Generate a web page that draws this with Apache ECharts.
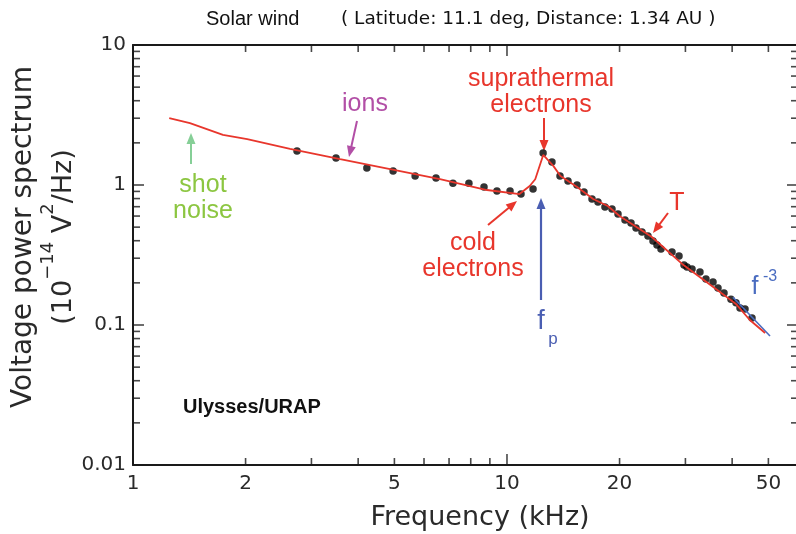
<!DOCTYPE html>
<html><head><meta charset="utf-8">
<script src="https://cdn.jsdelivr.net/npm/echarts@6/dist/echarts.min.js"></script>
<style>html,body{margin:0;padding:0;background:#fff}#c{width:796px;height:534px}</style>
</head><body><div id="c"></div>
<script>
// Model spectrum (red curve)
const modelFreq  = [1.25, 1.42, 1.74, 2.02, 2.63, 3.58, 4.87, 6.62, 8.84, 10.8, 11.5, 11.9, 12.5, 13.3, 13.9, 15.4, 17.0, 18.6, 20.0, 24.4, 29.4, 36.2, 41.0, 44.6, 49.0];
const modelPower = [3.01, 2.77, 2.28, 2.13, 1.81, 1.53, 1.30, 1.10, 0.921, 0.862, 0.984, 1.10, 1.64, 1.37, 1.16, 0.968, 0.794, 0.708, 0.600, 0.425, 0.273, 0.181, 0.141, 0.1086, 0.0877];
// Observed spectrum (black dots)
const obsFreq  = [2.745, 3.49, 4.22, 4.96, 5.68, 6.46, 7.17, 7.91, 8.68, 9.40, 10.19, 10.90, 11.74, 12.49, 13.19, 13.86, 14.56, 15.39, 16.07, 16.88, 17.51, 18.28, 19.09, 19.81, 20.68, 21.46, 22.13, 22.96, 23.82, 24.57, 25.18, 25.81, 27.62, 28.84, 29.74, 30.29, 31.24, 32.81, 34.04, 35.55, 36.66, 38.04, 39.71, 40.96, 41.98, 43.29, 45.20];
const obsPower = [1.75, 1.56, 1.32, 1.26, 1.16, 1.12, 1.03, 1.03, 0.968, 0.906, 0.906, 0.862, 0.936, 1.69, 1.46, 1.16, 1.07, 1.0, 0.891, 0.794, 0.756, 0.696, 0.674, 0.621, 0.562, 0.535, 0.493, 0.461, 0.432, 0.398, 0.373, 0.349, 0.332, 0.311, 0.268, 0.260, 0.251, 0.239, 0.213, 0.203, 0.184, 0.169, 0.153, 0.144, 0.132, 0.130, 0.112];
// f^-3 reference slope
const slopeFreq  = [40.2, 50.5];
const slopePower = [0.158, 0.0834];
// Axis ticks / labels
const xLabels     = [1, 2, 5, 10, 20, 50];
const xMajorTicks = [1, 10];
const xMinorTicks = [2, 3, 4, 5, 6, 7, 8, 9, 20, 30, 40, 50];
const yLabels     = [0.01, 0.1, 1, 10];
const yMajorTicks = [0.01, 0.1, 1, 10];
const yMinorTicks = [0.02,0.03,0.04,0.05,0.06,0.07,0.08,0.09,0.2,0.3,0.4,0.5,0.6,0.7,0.8,0.9,2,3,4,5,6,7,8,9];

const X_MIN = 1, X_MAX = 60, Y_MIN = 0.01, Y_MAX = 10;
const AX = '#1a1a1a';
const zip = (a, b) => a.map((v, i) => [v, b[i]]);

function axis(kind, pos, labels) {
  return {
    type: 'log', logBase: 10, position: pos,
    min: kind === 'x' ? X_MIN : Y_MIN, max: kind === 'x' ? X_MAX : Y_MAX,
    axisLine: { show: true, lineStyle: { color: AX, width: 2 } },
    axisTick: { show: false },
    axisLabel: labels ? { show: true, customValues: labels, fontSize: 20, color: '#2a2a2a', fontFamily: 'DejaVu Sans', margin: kind === 'x' ? 9 : 7 } : { show: false },
    splitLine: { show: false }
  };
}

// Inward tick marks as thin rect symbols placed by the axes' scales
function tickSeries(points, size, offset) {
  return {
    type: 'scatter', data: points, symbol: 'rect', symbolSize: size, symbolOffset: offset,
    itemStyle: { color: AX }, clip: false, silent: true, z: 6
  };
}

function arrow(x1, y1, x2, y2, color, w) {
  const a = Math.atan2(y2 - y1, x2 - x1), L = 11, H = 4.5;
  const bx = x2 - L * Math.cos(a), by = y2 - L * Math.sin(a);
  const px = -Math.sin(a), py = Math.cos(a);
  return [
    { type: 'line', shape: { x1, y1, x2: bx + 2*Math.cos(a), y2: by + 2*Math.sin(a) }, style: { stroke: color, lineWidth: w || 2 } },
    { type: 'polygon', shape: { points: [[x2, y2], [bx + H * px, by + H * py], [bx - H * px, by - H * py]] }, style: { fill: color } }
  ];
}
function txt(x, y, s, color, size, extra) {
  return { type: 'text', x, y, style: Object.assign({ text: s, fill: color, font: size + 'px "Liberation Sans", Arial, sans-serif', align: 'center', verticalAlign: 'middle', lineHeight: 26 }, extra || {}) };
}

const RED = '#e8362c', BLUE = '#4a5eb2';
const graphics = [].concat(
  [
    { type: 'text', x: 206, y: 19, style: { text: 'Solar wind', fill: '#111', font: '20px "Liberation Sans", Arial, sans-serif', verticalAlign: 'middle' } },
    { type: 'text', x: 341, y: 19, style: { text: '( Latitude: 11.1 deg, Distance: 1.34 AU )', fill: '#111', font: '18.5px "DejaVu Sans", sans-serif', verticalAlign: 'middle' } },
    { type: 'text', x: 480, y: 518, style: { text: 'Frequency (kHz)', fill: '#2a2a2a', font: '27px "DejaVu Sans", sans-serif', align: 'center', verticalAlign: 'middle' } },
    { type: 'text', x: 24, y: 237, rotation: Math.PI / 2, style: { text: 'Voltage power spectrum', fill: '#2a2a2a', font: '28px "DejaVu Sans", sans-serif', align: 'center', verticalAlign: 'middle' } },
    { type: 'text', x: 58, y: 237, rotation: Math.PI / 2, style: {
        text: '{b|(10}{s|−14}{b| V}{s|2}{b|/Hz)}', align: 'center', verticalAlign: 'middle',
        rich: { b: { fontSize: 27, fontFamily: 'DejaVu Sans', fill: '#2a2a2a', lineHeight: 38, verticalAlign: 'bottom' },
                s: { fontSize: 18, fontFamily: 'DejaVu Sans', fill: '#2a2a2a', lineHeight: 38, verticalAlign: 'top' } } } },
    txt(365, 104, 'ions', '#b24fa6', 25),
    txt(203, 198, 'shot\nnoise', '#8cc641', 25),
    txt(541, 92, 'suprathermal\nelectrons', RED, 25),
    txt(473, 256, 'cold\nelectrons', RED, 25),
    txt(677, 203, 'T', RED, 25),
    txt(541, 322, 'f', BLUE, 27),
    txt(553, 339, 'p', BLUE, 17),
    txt(755, 287, 'f', '#4a6cc0', 25),
    txt(770, 277, '-3', '#4a6cc0', 16),
    { type: 'text', x: 183, y: 407, style: { text: 'Ulysses/URAP', fill: '#111', font: 'bold 20px "Liberation Sans", Arial, sans-serif', verticalAlign: 'middle' } }
  ],
  arrow(191, 164, 191, 133, '#86cf97', 2),
  arrow(357, 121, 349, 157, '#b24fa6', 2),
  arrow(544, 118, 544, 151, RED, 2),
  arrow(488, 225, 517, 201, RED, 2),
  arrow(541, 300, 541, 198, BLUE, 2.2),
  arrow(668, 213, 653, 233, RED, 2)
);

const chart = echarts.init(document.getElementById('c'), null, { renderer: 'canvas' });
chart.setOption({
  animation: false,
  backgroundColor: '#fff',
  grid: { left: 133, top: 45, width: 665, height: 420, outerBoundsMode: 'none' },
  xAxis: [ axis('x', 'bottom', xLabels), axis('x', 'top', null) ],
  yAxis: [ axis('y', 'left', yLabels), axis('y', 'right', null) ],
  series: [
    { type: 'scatter', data: zip(obsFreq, obsPower), symbolSize: 7.5, itemStyle: { color: '#000' }, z: 2 },
    { type: 'line', data: zip(slopeFreq, slopePower), showSymbol: false, lineStyle: { color: '#4a6cc0', width: 1.6 }, z: 3 },
    { type: 'line', data: zip(modelFreq, modelPower), showSymbol: false, lineStyle: { color: RED, width: 1.8 }, z: 4 },
    tickSeries(xMajorTicks.map(v => [v, Y_MIN]), [1.6, 11], [0, -5.5]),
    tickSeries(xMinorTicks.map(v => [v, Y_MIN]), [1.6, 7], [0, -3.5]),
    tickSeries(xMajorTicks.map(v => [v, Y_MAX]), [1.6, 11], [0, 5.5]),
    tickSeries(xMinorTicks.map(v => [v, Y_MAX]), [1.6, 7], [0, 3.5]),
    tickSeries(yMajorTicks.map(v => [X_MIN, v]), [11, 1.6], [5.5, 0]),
    tickSeries(yMinorTicks.map(v => [X_MIN, v]), [7, 1.6], [3.5, 0]),
    tickSeries(yMajorTicks.map(v => [X_MAX, v]), [11, 1.6], [-5.5, 0]),
    tickSeries(yMinorTicks.map(v => [X_MAX, v]), [7, 1.6], [-3.5, 0])
  ],
  graphic: { elements: graphics }
});
</script>
</body></html>
